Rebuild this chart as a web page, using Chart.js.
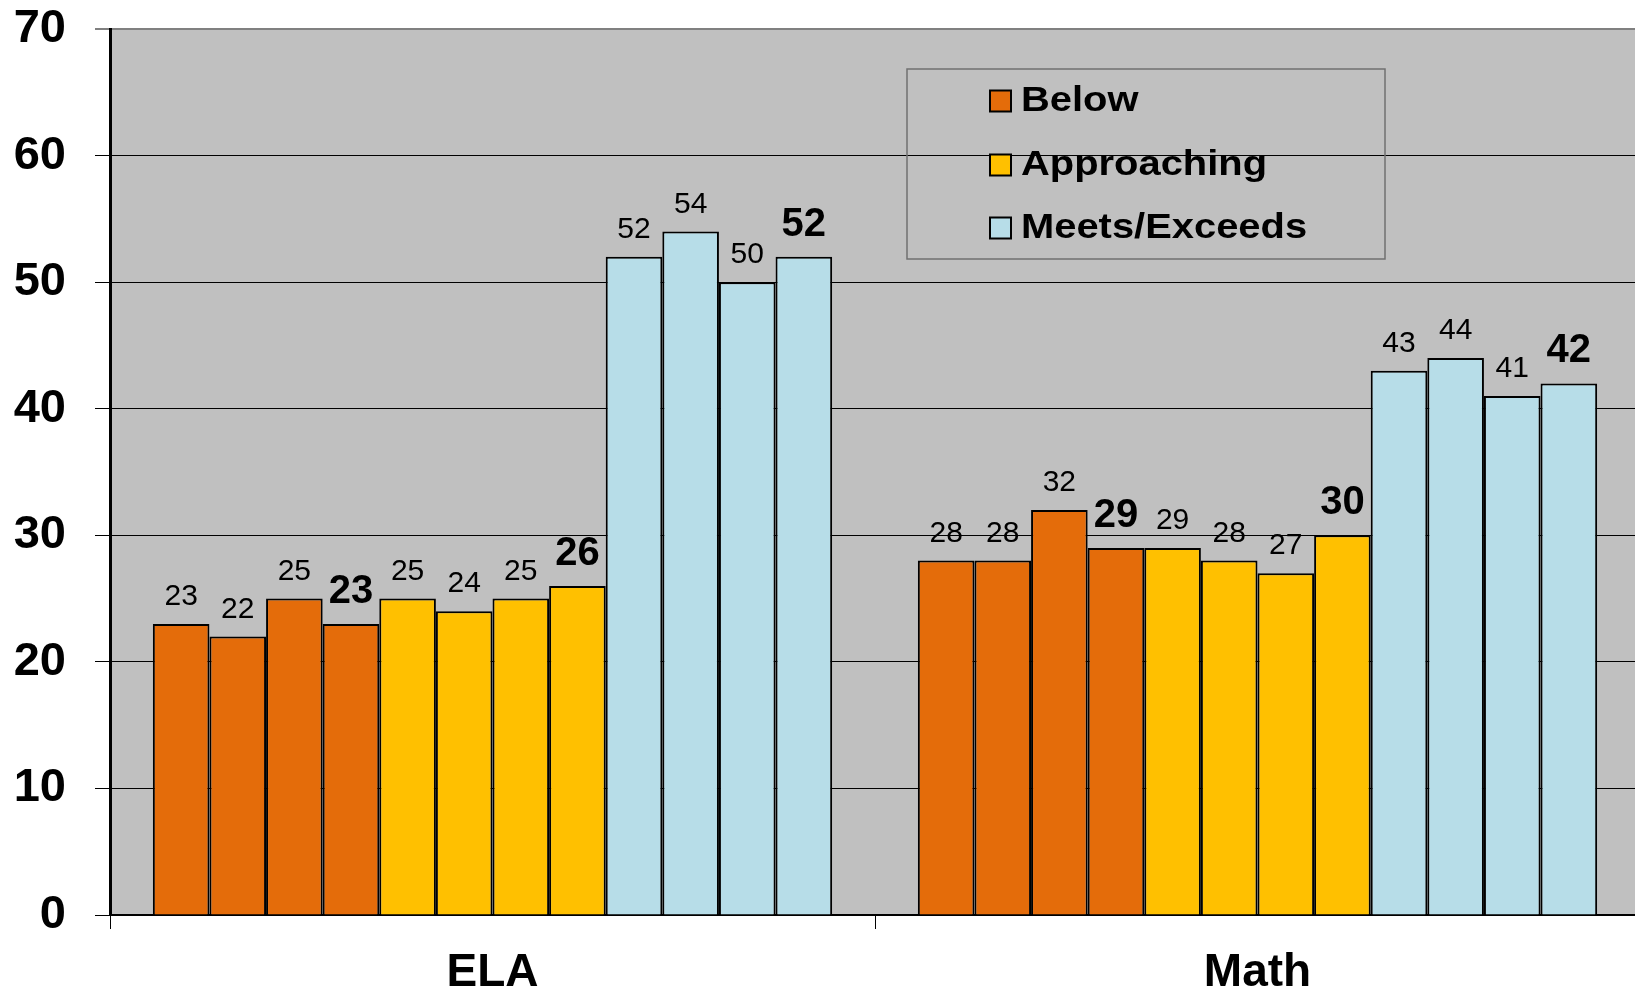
<!DOCTYPE html>
<html>
<head>
<meta charset="utf-8">
<script src="https://cdn.jsdelivr.net/npm/chart.js@4.4.1/dist/chart.umd.min.js"></script>
<style>
  html, body { margin: 0; padding: 0; background: #fff; overflow: hidden; }
  #wrap { position: relative; width: 1640px; height: 993px; }
</style>
</head>
<body>
<div id="wrap"><canvas id="chart"></canvas></div>
<script>
const categories = ['ELA', 'Math'];
const seriesNames = ['Below', 'Approaching', 'Meets/Exceeds'];
const seriesColors = ['#E46C0A', '#FFC000', '#B7DDE8'];

// four bars per level, the last one (bold label) is the current year
const elaBelow = [23, 22, 25, 23];
const elaApproaching = [25, 24, 25, 26];
const elaMeets = [52, 54, 50, 52];
const mathBelow = [28, 28, 32, 29];
const mathApproaching = [29, 28, 27, 30];
const mathMeets = [43, 44, 41, 42];

const yTicks = [0, 10, 20, 30, 40, 50, 60, 70];

const FONT = '"Liberation Sans", Arial, Helvetica, sans-serif';

const bySeries = [
  [elaBelow, mathBelow],
  [elaApproaching, mathApproaching],
  [elaMeets, mathMeets],
];

const datasets = [];
bySeries.forEach(([ela, math], s) => {
  for (let j = 0; j < 4; j++) {
    datasets.push({
      label: seriesNames[s],
      data: [ela[j], math[j]],
      backgroundColor: seriesColors[s],
      borderColor: '#000',
      borderWidth: 2,
      barPercentage: 1,
      categoryPercentage: 0.888,
      latest: j === 3,
      series: s,
    });
  }
});

const plotBackground = {
  id: 'plotBackground',
  beforeDraw(chart) {
    const {ctx, chartArea: a} = chart;
    ctx.save();
    ctx.fillStyle = '#C0C0C0';
    ctx.fillRect(a.left, a.top, a.right - a.left, a.bottom - a.top);
    ctx.restore();
  }
};

const valueLabels = {
  id: 'valueLabels',
  afterDatasetsDraw(chart) {
    const {ctx} = chart;
    ctx.save();
    ctx.fillStyle = '#000';
    ctx.textAlign = 'center';
    ctx.textBaseline = 'alphabetic';
    chart.data.datasets.forEach((ds, i) => {
      const meta = chart.getDatasetMeta(i);
      meta.data.forEach((bar, k) => {
        ctx.font = ds.latest ? `bold 40px ${FONT}` : `30px ${FONT}`;
        ctx.fillText(String(ds.data[k]), bar.x, bar.y - (ds.latest ? 21 : 19));
      });
    });
    ctx.restore();
  }
};

// legend sits inside the plot, boxed
const boxLegend = {
  id: 'boxLegend',
  afterDraw(chart) {
    const {ctx} = chart;
    ctx.save();
    ctx.strokeStyle = '#707070';
    ctx.lineWidth = 1.5;
    ctx.strokeRect(907, 69, 478, 190);
    const rows = [101, 165, 228];
    seriesNames.forEach((name, s) => {
      const y = rows[s];
      ctx.fillStyle = seriesColors[s];
      ctx.fillRect(990, y - 10.5, 21, 21);
      ctx.strokeStyle = '#000';
      ctx.lineWidth = 2;
      ctx.strokeRect(990, y - 10.5, 21, 21);
      ctx.fillStyle = '#000';
      ctx.font = `bold 35px ${FONT}`;
      ctx.textAlign = 'left';
      ctx.textBaseline = 'alphabetic';
      ctx.save();
      ctx.translate(1021, y + 10);
      ctx.scale(1.14, 1);
      ctx.fillText(name, 0, 0);
      ctx.restore();
    });
    ctx.restore();
  }
};

new Chart(document.getElementById('chart'), {
  type: 'bar',
  data: {labels: categories, datasets},
  options: {
    responsive: true,
    maintainAspectRatio: false,
    animation: false,
    layout: {padding: {top: 29, left: 0, right: 0, bottom: 0}},
    plugins: {
      legend: {display: false},
      tooltip: {enabled: false},
    },
    scales: {
      x: {
        grid: {offset: true, drawOnChartArea: false, drawTicks: true, tickLength: 14, color: '#000', lineWidth: 1},
        border: {color: '#000', width: 2},
        ticks: {font: {family: FONT, size: 46, weight: 'bold'}, color: '#000', padding: 17},
        afterFit: s => { s.height = 78; },
      },
      y: {
        min: 0,
        max: 70,
        afterBuildTicks: s => { s.ticks = yTicks.map(v => ({value: v})); },
        ticks: {font: {family: FONT, size: 47, weight: 'bold'}, color: '#000', padding: 29},
        grid: {
          color: c => (c.tick && c.tick.value === 70 ? '#808080' : '#000'),
          lineWidth: c => (c.tick && c.tick.value === 70 ? 2 : 1),
          tickLength: 15,
        },
        border: {color: '#000', width: 3},
        afterFit: s => {
          s.width = 110;
          // keep tick-label padding from pushing the plot down
          s.paddingTop = 0;
          s.paddingBottom = 0;
        },
      },
    },
  },
  plugins: [plotBackground, valueLabels, boxLegend],
});
</script>
</body>
</html>
